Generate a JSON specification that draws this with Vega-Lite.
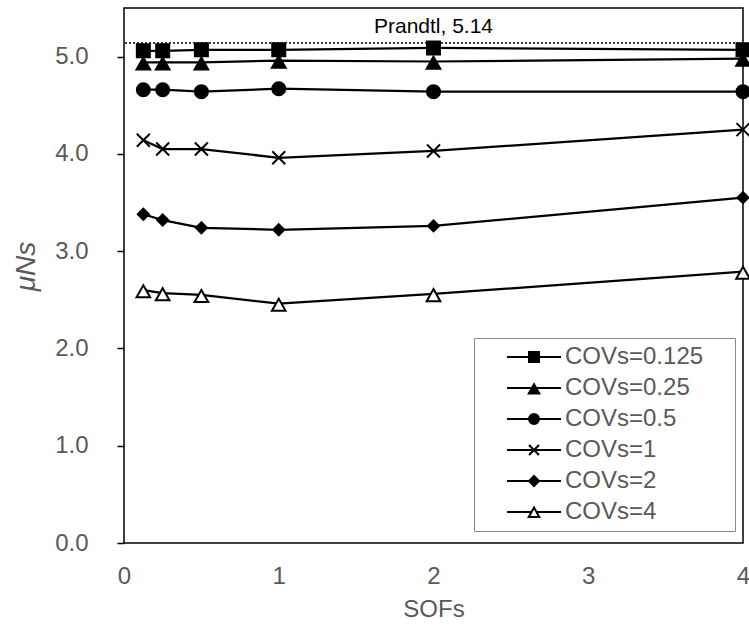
{
  "$schema": "https://vega.github.io/schema/vega-lite/v6.json",
  "width": 619,
  "height": 535,
  "autosize": "none",
  "padding": {"left": 124, "top": 8, "right": 6, "bottom": 85},
  "background": "white",
  "config": {
    "view": {"stroke": "black", "strokeWidth": 1.5},
    "font": "Liberation Sans"
  },
  "datasets": {
    "curves": [
      {"x": 0.125, "y": 5.06, "s": "COVs=0.125"},
      {"x": 0.25, "y": 5.06, "s": "COVs=0.125"},
      {"x": 0.5, "y": 5.07, "s": "COVs=0.125"},
      {"x": 1, "y": 5.07, "s": "COVs=0.125"},
      {"x": 2, "y": 5.09, "s": "COVs=0.125"},
      {"x": 4, "y": 5.07, "s": "COVs=0.125"},
      {"x": 0.125, "y": 4.94, "s": "COVs=0.25"},
      {"x": 0.25, "y": 4.94, "s": "COVs=0.25"},
      {"x": 0.5, "y": 4.94, "s": "COVs=0.25"},
      {"x": 1, "y": 4.96, "s": "COVs=0.25"},
      {"x": 2, "y": 4.95, "s": "COVs=0.25"},
      {"x": 4, "y": 4.98, "s": "COVs=0.25"},
      {"x": 0.125, "y": 4.66, "s": "COVs=0.5"},
      {"x": 0.25, "y": 4.66, "s": "COVs=0.5"},
      {"x": 0.5, "y": 4.64, "s": "COVs=0.5"},
      {"x": 1, "y": 4.67, "s": "COVs=0.5"},
      {"x": 2, "y": 4.64, "s": "COVs=0.5"},
      {"x": 4, "y": 4.64, "s": "COVs=0.5"},
      {"x": 0.125, "y": 4.14, "s": "COVs=1"},
      {"x": 0.25, "y": 4.05, "s": "COVs=1"},
      {"x": 0.5, "y": 4.05, "s": "COVs=1"},
      {"x": 1, "y": 3.96, "s": "COVs=1"},
      {"x": 2, "y": 4.03, "s": "COVs=1"},
      {"x": 4, "y": 4.25, "s": "COVs=1"},
      {"x": 0.125, "y": 3.38, "s": "COVs=2"},
      {"x": 0.25, "y": 3.32, "s": "COVs=2"},
      {"x": 0.5, "y": 3.24, "s": "COVs=2"},
      {"x": 1, "y": 3.22, "s": "COVs=2"},
      {"x": 2, "y": 3.26, "s": "COVs=2"},
      {"x": 4, "y": 3.55, "s": "COVs=2"},
      {"x": 0.125, "y": 2.6, "s": "COVs=4"},
      {"x": 0.25, "y": 2.57, "s": "COVs=4"},
      {"x": 0.5, "y": 2.55, "s": "COVs=4"},
      {"x": 1, "y": 2.46, "s": "COVs=4"},
      {"x": 2, "y": 2.56, "s": "COVs=4"},
      {"x": 4, "y": 2.79, "s": "COVs=4"}
    ],
    "ref": [{"x": 2, "y": 5.14, "label": "Prandtl, 5.14"}]
  },
  "layer": [
    {
      "data": {"name": "curves"},
      "mark": {"type": "line", "color": "black", "strokeWidth": 2.25},
      "encoding": {
        "x": {
          "field": "x", "type": "quantitative",
          "scale": {"domain": [0, 4], "nice": false, "zero": false},
          "axis": {
            "title": "SOFs", "values": [0, 1, 2, 3, 4], "format": "d",
            "ticks": false, "domain": false, "grid": false, "labelFlush": false,
            "labelFontSize": 24, "labelColor": "#595959", "labelPadding": 21,
            "titleFontSize": 24, "titleColor": "#595959", "titleFontWeight": "normal", "titlePadding": 9
          }
        },
        "y": {
          "field": "y", "type": "quantitative",
          "scale": {"domain": [0, 5.5], "nice": false},
          "axis": {
            "title": "μNs", "values": [0, 1, 2, 3, 4, 5], "format": ".1f",
            "ticks": true, "tickSize": 7, "tickColor": "black", "tickWidth": 1.5,
            "domain": false, "grid": false, "labelFlush": false,
            "labelFontSize": 24, "labelColor": "#595959", "labelPadding": 29,
            "titleFontSize": 28, "titleColor": "#595959", "titleFontWeight": "normal", "titleFontStyle": "italic",
            "titleX": -84, "titleY": 258
          }
        },
        "detail": {"field": "s", "type": "nominal"}
      }
    },
    {
      "data": {"name": "ref"},
      "mark": {"type": "rule", "color": "black", "strokeWidth": 1.5, "strokeDash": [2, 2]},
      "encoding": {"y": {"field": "y", "type": "quantitative"}}
    },
    {
      "data": {"name": "ref"},
      "mark": {"type": "text", "color": "black", "fontSize": 21, "dy": -16, "baseline": "middle", "align": "center"},
      "encoding": {
        "x": {"field": "x", "type": "quantitative"},
        "y": {"field": "y", "type": "quantitative"},
        "text": {"field": "label", "type": "nominal"}
      }
    },
    {
      "data": {"name": "curves"},
      "mark": {"type": "point", "stroke": "black", "strokeWidth": 2, "size": 169, "opacity": 1},
      "encoding": {
        "x": {"field": "x", "type": "quantitative"},
        "y": {"field": "y", "type": "quantitative"},
        "shape": {
          "field": "s", "type": "nominal", "legend": null,
          "scale": {
            "domain": ["COVs=0.125", "COVs=0.25", "COVs=0.5", "COVs=1", "COVs=2", "COVs=4"],
            "range": [
              "M-1,-1H1V1H-1Z",
              "M0,-0.75L1.05,1.1H-1.05Z",
              "circle",
              "M-1,-1L1,1M-1,1L1,-1",
              "M0,-0.85L0.85,0L0,0.85L-0.85,0Z",
              "M0,-0.75L1.05,1.1H-1.05Z"
            ]
          }
        },
        "fill": {
          "field": "s", "type": "nominal", "legend": null,
          "scale": {
            "domain": ["COVs=0.125", "COVs=0.25", "COVs=0.5", "COVs=1", "COVs=2", "COVs=4"],
            "range": ["black", "black", "black", "black", "black", "white"]
          }
        }
      }
    },
    {
      "data": {"name": "curves"},
      "mark": {"type": "point", "stroke": "black", "strokeWidth": 2, "opacity": 0},
      "encoding": {
        "x": {"field": "x", "type": "quantitative"},
        "y": {"field": "y", "type": "quantitative"},
        "shape": {
          "field": "s", "type": "nominal",
          "scale": {
            "domain": ["COVs=0.125", "COVs=0.25", "COVs=0.5", "COVs=1", "COVs=2", "COVs=4"],
            "range": [
              "M-5.4,0H5.4M-1,-1H1V1H-1Z",
              "M-5.4,0H5.4M0,-0.75L1.05,1.1H-1.05Z",
              "M-5.4,0H5.4M1,0A1,1,0,1,1,-1,0A1,1,0,1,1,1,0Z",
              "M-5.4,0H5.4M-1,-1L1,1M-1,1L1,-1",
              "M-5.4,0H5.4M0,-1L1,0L0,1L-1,0Z",
              "M-5.4,0H-0.5M0.5,0H5.4M0,-0.9L1.05,1H-1.05Z"
            ]
          },
          "legend": {
            "title": null, "orient": "none", "legendX": 350, "legendY": 330,
            "labelFontSize": 24, "labelColor": "#595959", "labelFont": "Liberation Sans", "labelLimit": 400,
            "labelExpr": "datum.label + '\u00a0\u2800'",
            "symbolSize": 100, "symbolStrokeColor": "black", "symbolStrokeWidth": 2, "symbolOpacity": 1,
            "strokeColor": "#888888", "fillColor": "white", "padding": 7, "rowPadding": 7,
            "symbolOffset": 41, "labelOffset": 19,
            "encode": {"symbols": {"update": {"stroke": {"value": "black"}, "strokeWidth": {"value": 2}, "opacity": {"value": 1}, "strokeOpacity": {"value": 1}, "fillOpacity": {"value": 1}}}}
          }
        },
        "fill": {
          "field": "s", "type": "nominal",
          "scale": {
            "domain": ["COVs=0.125", "COVs=0.25", "COVs=0.5", "COVs=1", "COVs=2", "COVs=4"],
            "range": ["black", "black", "black", "black", "black", "white"]
          },
          "legend": {
            "title": null, "orient": "none", "legendX": 350, "legendY": 330,
            "labelFontSize": 24, "labelColor": "#595959", "labelFont": "Liberation Sans", "labelLimit": 400,
            "labelExpr": "datum.label + '\u00a0\u2800'",
            "symbolSize": 100, "symbolStrokeColor": "black", "symbolStrokeWidth": 2, "symbolOpacity": 1,
            "strokeColor": "#888888", "fillColor": "white", "padding": 7, "rowPadding": 7,
            "symbolOffset": 41, "labelOffset": 19,
            "encode": {"symbols": {"update": {"stroke": {"value": "black"}, "strokeWidth": {"value": 2}, "opacity": {"value": 1}, "strokeOpacity": {"value": 1}, "fillOpacity": {"value": 1}}}}
          }
        }
      }
    }
  ],
  "resolve": {"scale": {"shape": "independent", "fill": "independent"}}
}
